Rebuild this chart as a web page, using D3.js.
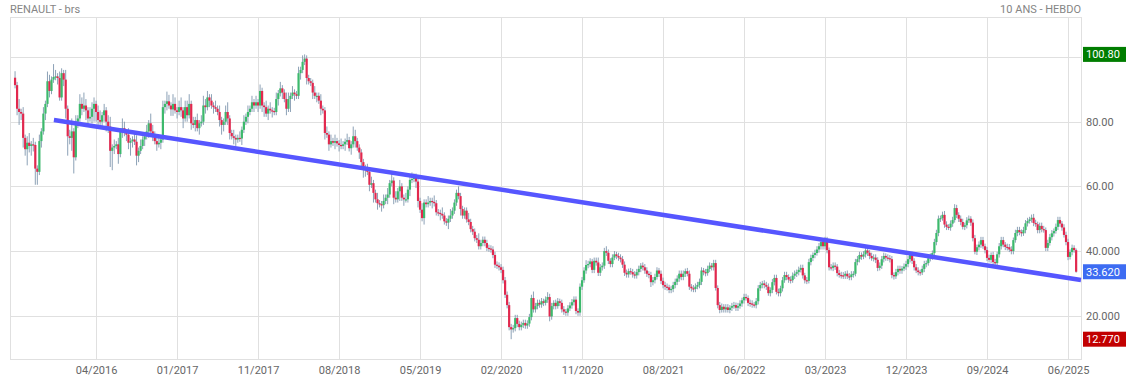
<!DOCTYPE html>
<html><head><meta charset="utf-8">
<script src="https://cdn.jsdelivr.net/npm/d3@7"></script>
<style>body{margin:0;background:#fff;} svg{display:block;font-family:Roboto,"Noto Sans",sans-serif;}</style>
</head><body><svg id="c" width="1126" height="380"></svg>
<script>
// ---- DATA (weekly candles) ----
const firstOpen = 93.6;
const closesA = [91.3,84,83,82.5,75,71.5,73.5,72.5,73,72.8,
65.5,64.5,74,77,82.5,85.5,92.5,89.5,93,93.8,
94,93.5,87.5,95,93,84,75.5,75,77,69,
80,81,85.5,84,85,83.5,81,81.5,84,85.5,
83,80.5,80,82,83.5,80,78.5,71,72,72.5,
73,70,77,78,76.5,76,73.5,74,74.5,73.8,
69.5,71,72.5,74.5,75.5,77,79.5,77,76,74,
73,73.5,74.5,84.5,85.5,86.3,85,83.8,85.5,83.5,
83,84.5,83.5,81,84.5,82,85.5];
const closesB = [79.5,79,80.5,78,79.5,80,85,84.5,87.5,86.5,
85,84.5,84,83,80.5,79,80,83,81,76.5,
75.5,75,74.5,75,74.8,77.5,80,81.5,83,84,
86,85,86,85,89.5,85,84.5,82.5,84,83.5,
83.3,83,87,88.8,90.3,89,87,84,87,88,
89,88.5,88,95,96,98.5,99.5,93.5,92.5,92,
89,88,88,86.5,84,83.5,76.5,76,73,74,
73.5,74,73.3,72.8,72.5,73,73.8,74.3,71.8,73,
75.5,74,72,70.5,67.5,65.7];
const closesC = [65,64.5,60.5,61,58,56,54.8,54.5,54.2,55.5,
56.5,57.5,61,61.8,56.5,56,58.5,60,56.5,56,
56,59,62,62.3,63,61.5,55.5,52.8,50.2,55,
54.5,55,55.5,55.2,54.8,52,51.8,51.5,51,49.2,
48.8,50,51,52.5,55,58,57,53,51,52.5,
49.8,49,46.8,46,44,43.5,41.5,42.5,43.5,42.5,
41,40.8,40.5,38.8,35.8,35.5,35,34.2,31,26.5,
23.3,16.5,15.8,16.2,19.3,17.5,16.5,17.2,17.8,17,
17.6,19.6,25.5,22,23,24,23.5];
const closesD = [24.5,24,25,25.8,19.8,23,24,23,24.5,24,
22,21.3,21,22.3,23.2,24.2,25,21.5,21,29,
31,34,35.7,36,36.8,34.2,37,36.5,33.3,35,
35.5,40,39.5,37,36,38,39,38.5,38,37.5,
35.8,33.3,32.8,33.8,33.5,32.8,32.5,33.5,34.5,35.5,
35,34,33,32.6,30.4,31,32,34,33,30.8,
29.5,29,28.8,28,28.3,29.5,30.5,31.5,33,32];
const closesE = [33,33.8,33,29,28.5,28.3,29,29.5,30.5,34,33.5,33.2,34.5,35.5,35,36.3];
const closesF = [28.6,23.3,21.8,22.8,22,22.6,21.8,22.5,23,23.3,
22.5,23,23.8,24.8,25.8,25.5,24,23.8,23.5,23.3,
24.5,28.5,29.5,30,29.5,29,27,28,30.4,31.7,
27.4,27,28.5,31,32.6,32,31.2,31,32.4,33,
33.5,34.2,34.8,32.5,31,30.8,36.6,37.9,38.8,39.4,
40.5,41.5,42.8,41.5,43.4,40.3,35,34.8,35.5,35.2,
33.2,32.6,32.5,32.4,33,32.2,32,32.8,33,36.6,
37.5,38.8,38.3,39,40.2,39.5,38.5,37.8,38,37.3,
34.8,35.5,37.5,38.5,38,37.8,37.5,32.6,32.2,33.5,
34.5,34,34.6,35.2,36,37.5,38.8];
const closesG = [37,35,34,33.5,33.4,34.5,36,36.3,37.8,38.3,
39.4,42.8,45.6,50,50.2,51.2,48.2,47.5,47.3,48.5,
49.6,53.3,51.2,50,49,47.5,48,49.5,50,48.8,
44,39.8,41.2,42,43.4,41.5,40.3,37.9,37.3,38.8,
36.6,36.3,39,41.5,43.4,42,41.3,41.2,40.5,40,
43.4,45.6,46.5,45.9,45.5,46.5,48.6,49.3,49.8,50.3,
48.7,48.3,46.5,47.8,46.8,46.5,41,42.5,44.3,45.5,
46.2,47.5,49.6,48.5,47.3,45,42.8,38.2,39.7,41,
40.3,33.62];

const wickUpA = [2,1,3,1,2,1,2,3,1,2, 1,1,2,1,2,1,3,2,1,4, 2,1,2,1.5,1,3,1,2,4,1, 2,1,3,2,4,2,1,3,2,2, 1,2,3,1,2,1,2,3,1,2, 1,2,1,3,2,1,2,1,1,2, 2,1,2,1,1,2,1,3,2,1, 1,2,1,2,1,3,2,1,3,2, 1,2,3,1,2,2,3];
const wickDnA = [1,2,4,2,3,2,5,2,3,2, 5,4,1,2,1,2,1,2,1,1, 1,2,1,1,2,3,6,2,4,5, 1,2,1,2,1,3,2,1,2,4, 3,2,1,2,2,3,2,5,6,2, 1,3,1,2,1,2,2,4,2,1, 3,2,1,1,2,1,2,1,2,1, 2,1,2,1,2,2,1,2,2,1, 2,1,2,3,1,2,1];
const wickUpB = [1,2,1,2,1,2,3,2,2,1, 2,1,2,1,2,1,1,2,3,1, 1,2,1,1,2,1,2,1,2,1, 2,1,2,1,2,1,1,2,1,2, 1,1,2,1,2,1,1,2,2,1, 2,1,1,2,1,2,1.3,1,1,1, 1,2,1,1,2,1,1,2,1,2, 1,2,1,1,2,1,1,2,1,1, 3,2,1,1,1,1];
const wickDnB = [2,1,2,1,2,1,1,2,1,2, 1,2,1,1,2,3,2,1,2,2, 1,2,2,1,1,2,1,1,2,1, 1,2,1,2,1,2,3,1,2,1, 2,1,1,2,1,2,1,2,1,4, 1,2,1,1,2,1,1,2,1,1, 2,1,2,1,2,1,2,1,2,1, 1,2,1,2,1,1,2,1,1,2, 1,2,1,2,2,3];
const wickUpC = [1,2,1,2,1,1,2,1,1,2, 1,2,1,3,1,2,1,2,1,1, 2,1,1,2,1,1,2,1,2,1, 1,2,1,1,2,1,1,1,2,1, 1,1,2,1,1,1,2,1,1,1, 1,2,1,1,1,1,2,1,1,1, 1,1,1,1,1,1,1,1,1,1, 1,1,1,1,1,1,1,1,1,1, 1,1,1,2,1,1,1];
const wickDnC = [2,1,2,1,3,1,2,1,2,1, 1,2,1,1,2,1,1,3,1,2, 1,1,2,1,1,2,2,1,1,2, 1,1,1,2,1,1,1,2,1,1, 1,2,1,1,1,1,1,2,1,1, 1,1,1,1,1,1,1,1,1,1, 1,1,1,1,1,1,1,1,1,1, 1,1,3.03,1,1,1,1,1,1,1, 1,1,1,1,1,1,1];
const wickUpD = [1,0.8,1,1.5,1,1,0.8,1,1,0.8, 1,1,0.8,1,1,1,1,1,0.8,1, 1,1,1.5,1,1,0.8,1,1,1.5,1, 1,1,1.5,1,0.8,1,1,0.8,1,1, 1,1,1,0.8,1,1,1,1,1,0.8, 1,1,1,0.8,1,1,1,1,0.8,1, 1,1,1,0.8,1,1,1,1,1,1];
const wickDnD = [1,1,0.8,1,1.5,1,1,1,0.8,1, 1,1,1,1,0.8,1,1,1,1,1, 1,0.8,1,1,1,1,1,1,1,1, 1,1,1,1,1,1,0.8,1,1,1, 1,1,1,1,0.8,1,1,1,1,1, 1,1,1,1,1.5,1,1,0.8,1,1, 1,1,1,1,1,1,1,1,1,1];
const wickUpE = [1,0.8,1,1,0.8,1,1,1,1,1,0.8,1,1,1,0.8,1];
const wickDnE = [1,1,0.8,1,1,1,1,0.8,1,1,1,1,0.8,1,1,1];
const wickUpF = [1,0.8,1,1,0.8,1,1,0.8,1,1, 0.8,1,1,0.8,1,1,0.8,1,1,0.8, 1,1,1,0.8,1,1,1,0.8,1,1, 1,1,0.8,1,1,1,0.8,1,1,1, 0.8,1,1,1,0.8,1,1,1,0.8,1, 1,1,1,1,1,1,0.8,1,1,1, 0.8,1,1,1,0.8,1,1,1,0.8,1, 1,1,0.8,1,1,1,0.8,1,1,1, 0.8,1,1,1,0.8,1,1,1,0.8,1, 1,1,0.8,1,1,1,0.8];
const wickDnF = [0.8,1,1,0.8,1,1,0.8,1,1,0.8, 1,1,0.8,1,1,0.8,1,1,1,0.8, 1,1,0.8,1,1,1,0.8,1,1,1, 0.8,1,1,1,0.8,1,1,1,0.8,1, 1,1,0.8,1,1,1,0.8,1,1,1, 0.8,1,1,1,1,1,1,0.8,1,1, 1,0.8,1,1,1,0.8,1,1,1,0.8, 1,1,1,0.8,1,1,1,0.8,1,1, 1,0.8,1,1,1,0.8,1,1,1,0.8, 1,1,1,0.8,1,1,1];
const wickUpG = [1,0.8,1,1,0.8,1,1,0.8,1,1, 0.8,1,1,1,0.8,1,1.2,1,0.8,1, 1,1.2,1,0.8,1,1,0.8,1,1,0.8, 1,1,0.8,1,1,1,0.8,1,1,0.8, 1,1,0.8,1,1,1,0.8,1,1,1, 0.8,1,1,1,0.8,1,1,1,0.8,1, 1.2,1,0.8,1,1,1,0.8,1,1,1, 0.8,1,1,1,0.8,1,1,1,0.8,1, 0.8,0.5];
const wickDnG = [1,1,0.8,1,1,0.8,1,1,0.8,1, 1,0.8,1,1,1,0.8,1,1,0.8,1, 1,0.8,1,1,1,0.8,1,1,0.8,1, 1,0.8,1,1,1,0.8,1,1,0.8,1, 1,0.8,1,1,1,0.8,1,1,0.8,1, 1,0.8,1,1,1,0.8,1,1,0.8,1, 1,0.8,1,1,1,0.8,1,1,0.8,1, 1,0.8,1,1,1,0.8,1,1,0.8,1, 0.8,0.3];

const xTickIndex = [40,80,120,160,200,240,280,320,360,400,440,480,520];
const xTickLabels = ["04/2016","01/2017","11/2017","08/2018","05/2019","02/2020","11/2020","08/2021","06/2022","03/2023","12/2023","09/2024","06/2025"];
const yGridValues = [20,40,60,80,100];
const yTickValues = [20,40,60,80];
const yTickLabels = ["20.000","40.000","60.00","80.00"];
const trendIndex = [19.2, 526.4];
const trendValue = [80.5, 31.07];
const badgeValues = [100.80, 33.62, 12.77];
const badgeLabels = ["100.80","33.620","12.770"];
const titleLeft = "RENAULT - brs";
const titleRight = "10 ANS - HEBDO";

// ---- BUILD ----
const closes = [].concat(closesA, closesB, closesC, closesD, closesE, closesF, closesG);
const wickUp = [].concat(wickUpA, wickUpB, wickUpC, wickUpD, wickUpE, wickUpF, wickUpG);
const wickDn = [].concat(wickDnA, wickDnB, wickDnC, wickDnD, wickDnE, wickDnF, wickDnG);
const candles = closes.map((c, i) => {
  const o = i === 0 ? firstOpen : closes[i - 1];
  const u = wickUp[i] != null ? wickUp[i] : 1, d = wickDn[i] != null ? wickDn[i] : 1;
  return {i, o, c, h: Math.max(o, c) + u, l: Math.min(o, c) - d};
});

const L = 10, R = 1081, T = 17, B = 359;
const x = d3.scaleLinear().domain([-2.5, 526.4]).range([L, R]);
const y = d3.scaleLinear().domain([6.65, 112.36]).range([B, T]);
const svg = d3.select("#c");

// grid
const grid = svg.append("g").attr("stroke", "#e0e0e0").attr("stroke-width", 1).attr("shape-rendering", "crispEdges");
grid.selectAll("line.v").data(xTickIndex).join("line").attr("class", "v")
  .attr("x1", d => Math.round(x(d)) + 0.5).attr("x2", d => Math.round(x(d)) + 0.5).attr("y1", T).attr("y2", B);
grid.selectAll("line.h").data(yGridValues).join("line").attr("class", "h")
  .attr("y1", d => Math.round(y(d)) + 0.5).attr("y2", d => Math.round(y(d)) + 0.5).attr("x1", L).attr("x2", R);
grid.append("rect").attr("x", L + 0.5).attr("y", T + 0.5).attr("width", R - L).attr("height", B - T).attr("fill", "none");

// candles
const cg = svg.append("g");
cg.selectAll("line.w").data(candles).join("line").attr("class", "w")
  .attr("x1", d => x(d.i)).attr("x2", d => x(d.i)).attr("y1", d => y(d.h)).attr("y2", d => y(d.l))
  .attr("stroke", "#7f96ae").attr("stroke-width", 0.9);
cg.selectAll("rect.b").data(candles).join("rect").attr("class", "b")
  .attr("x", d => x(d.i) - 1.1).attr("width", 2.2)
  .attr("y", d => y(Math.max(d.o, d.c)))
  .attr("height", d => Math.max(1.2, Math.abs(y(d.o) - y(d.c))))
  .attr("fill", d => d.c >= d.o ? "#3cb96c" : "#e2284e");

// trend line
svg.append("line")
  .attr("x1", x(trendIndex[0])).attr("y1", y(trendValue[0]))
  .attr("x2", x(trendIndex[1])).attr("y2", y(trendValue[1]))
  .attr("stroke", "#5656ff").attr("stroke-width", 4.5);

// axes
const xAxis = d3.axisBottom(x).tickValues(xTickIndex).tickFormat((d, k) => xTickLabels[k]).tickSize(0).tickPadding(7);
const gx = svg.append("g").attr("transform", `translate(0,${B})`).call(xAxis);
gx.select(".domain").remove();
gx.selectAll("text").attr("fill", "#666").style("font-size", "11px").style("font-family", "Roboto");

const yAxis = d3.axisRight(y).tickValues(yTickValues).tickFormat((d, k) => yTickLabels[k]).tickSize(0).tickPadding(5);
const gy = svg.append("g").attr("transform", `translate(${R},0)`).call(yAxis);
gy.select(".domain").remove();
gy.selectAll("text").attr("fill", "#666").style("font-size", "11px").style("font-family", "Roboto");

// titles
svg.append("text").attr("x", 10).attr("y", 13).attr("fill", "#858585").style("font-size", "11px").text(titleLeft);
svg.append("text").attr("x", R).attr("y", 13).attr("text-anchor", "end").attr("fill", "#858585").style("font-size", "11px").text(titleRight);

// badges
const badgeFill = ["#007d00", "#3d6cf2", "#c20000"];
const bg = svg.append("g");
badgeValues.forEach((v, k) => {
  const cy = y(v);
  bg.append("rect").attr("x", R + 2).attr("y", cy - 7.5).attr("width", 1126 - R - 2).attr("height", 15).attr("fill", badgeFill[k]);
  bg.append("text").attr("x", R + 5).attr("y", cy).attr("dy", "0.35em").attr("fill", "#fff").style("font-size", "11px").text(badgeLabels[k]);
});
</script>
</body></html>
